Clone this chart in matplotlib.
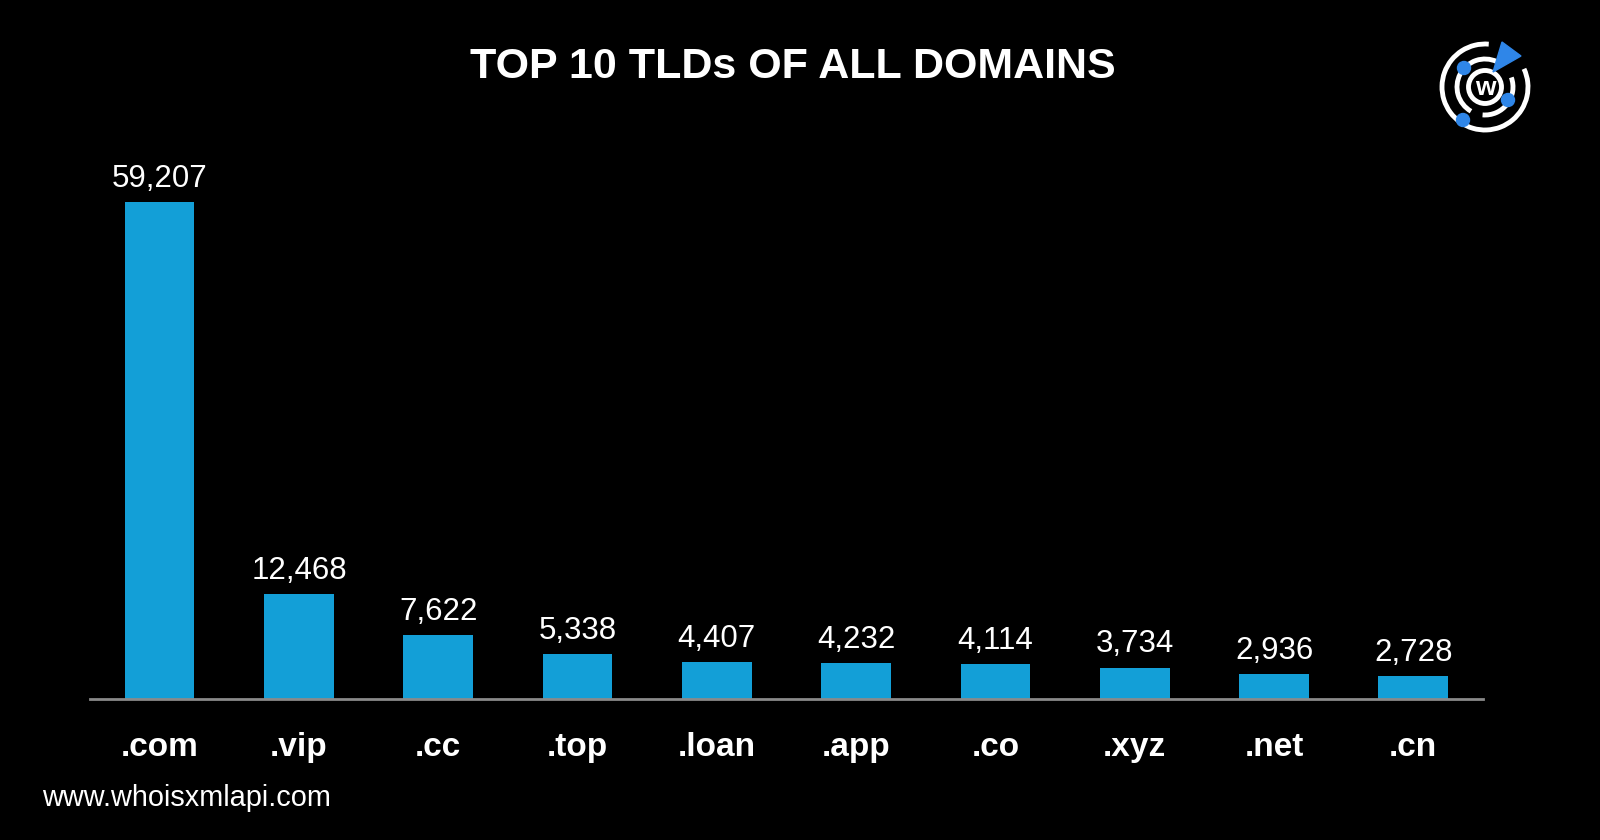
import matplotlib.pyplot as plt
import matplotlib.patches as mpatches
import numpy as np

# data
tlds = [".com", ".vip", ".cc", ".top", ".loan", ".app", ".co", ".xyz", ".net", ".cn"]
counts = [59207, 12468, 7622, 5338, 4407, 4232, 4114, 3734, 2936, 2728]

bar_color = "#139fd7"
bg = "black"

fig = plt.figure(figsize=(16, 8.4), dpi=100, facecolor=bg)

# main bar axes
ax = fig.add_axes([0.05625, 0.1679, 0.8706, 0.6495], facecolor=bg)
x = np.arange(len(tlds))
bars = ax.bar(x, counts, width=0.5, color=bar_color, zorder=2)
ax.set_xlim(-0.5, len(tlds) - 0.5)
ax.set_ylim(0, 65000)

for spine in ["top", "right", "left"]:
    ax.spines[spine].set_visible(False)
ax.spines["bottom"].set_color("#8a8a8a")
ax.spines["bottom"].set_linewidth(2)
ax.set_yticks([])
ax.set_xticks(x)
ax.set_xticklabels(tlds, fontfamily="Liberation Sans", fontweight="bold",
                   fontsize=24, color="white")
ax.tick_params(axis="x", length=0, pad=24)

# value labels over the bars
for xi, v in zip(x, counts):
    ax.annotate(f"{v:,}", (xi, v), xytext=(0, 11), textcoords="offset points",
                ha="center", va="baseline", color="white", fontsize=22.5,
                fontfamily="Liberation Sans")

# title and footer
fig.text(0.4956, 0.92, "TOP 10 TLDs OF ALL DOMAINS", ha="center", va="center",
         color="white", fontsize=31, fontweight="bold", fontfamily="Liberation Sans")
fig.text(0.026, 0.05, "www.whoisxmlapi.com", ha="left", va="center",
         color="white", fontsize=20.8, fontfamily="Liberation Sans")

# logo drawn in pixel coordinates (y inverted, so arc angles run clockwise)
lax = fig.add_axes([0, 0, 1, 1], facecolor="none")
lax.set_xlim(0, 1600)
lax.set_ylim(840, 0)
lax.set_aspect("equal")
lax.axis("off")
cx, cy = 1485, 87
blue = "#2f86e8"
lax.add_patch(mpatches.Arc((cx, cy), 86, 86, theta1=-25, theta2=275, color="white", lw=3.5))
lax.add_patch(mpatches.Arc((cx, cy), 56, 56, theta1=-240, theta2=-65, color="white", lw=3.5))
lax.add_patch(mpatches.Arc((cx, cy), 56, 56, theta1=-20, theta2=95, color="white", lw=3.5))
lax.add_patch(mpatches.Circle((cx, cy), 16.5, fill=False, ec="white", lw=3.5))
lax.text(cx, cy + 1, "w", ha="center", va="center", color="white", fontsize=19,
         fontweight="bold", fontfamily="Liberation Sans")
for dx, dy in [(1464, 68), (1508, 100), (1463, 120)]:
    lax.add_patch(mpatches.Circle((dx, dy), 6.5, color=blue))
lax.add_patch(mpatches.Polygon([(1502, 42), (1521, 56), (1493, 72)], closed=True,
                               color=blue))

fig.savefig("out.png", dpi=100, facecolor=bg)
